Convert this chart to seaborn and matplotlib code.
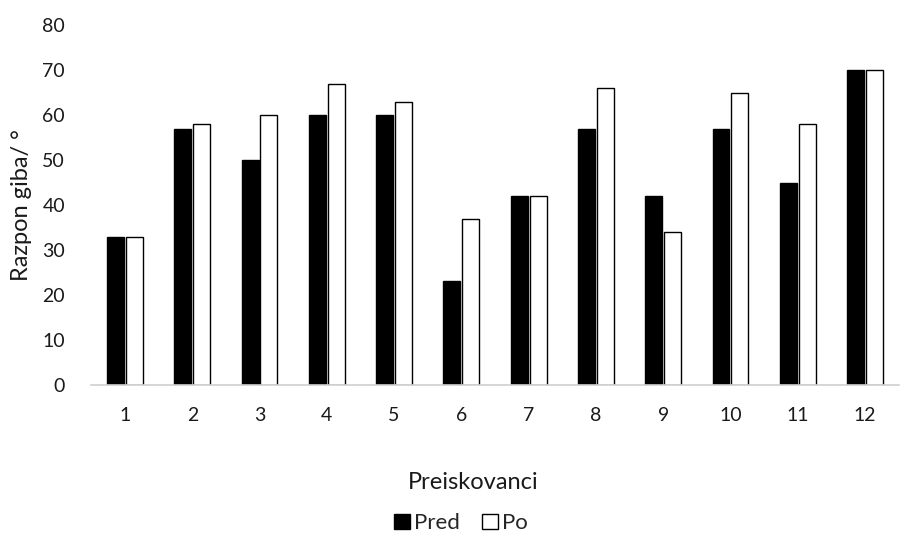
import matplotlib
matplotlib.use("Agg")
import matplotlib.pyplot as plt
import pandas as pd
import seaborn as sns
from matplotlib.patches import Patch

subjects = ["1", "2", "3", "4", "5", "6", "7", "8", "9", "10", "11", "12"]
pred = [33, 57, 50, 60, 60, 23, 42, 57, 42, 57, 45, 70]
po = [33, 58, 60, 67, 63, 37, 42, 66, 34, 65, 58, 70]
series = ["Pred", "Po"]

df = pd.DataFrame({
    "Preiskovanci": subjects * 2,
    "value": pred + po,
    "series": [series[0]] * len(subjects) + [series[1]] * len(subjects),
})

sns.set_theme(style="white")
plt.rcParams["font.family"] = ["Lato", "DejaVu Sans"]

fig = plt.figure(figsize=(9.04, 5.38), dpi=100)
ax = fig.add_axes([0.1011, 0.2844, 0.8929, 0.6691])

sns.barplot(data=df, x="Preiskovanci", y="value", hue="series",
            palette={"Pred": "black", "Po": "white"}, width=0.56, gap=0.1,
            edgecolor="black", linewidth=1.0, ax=ax, legend=False)

ax.set_ylim(0, 80)
ax.set_yticks(range(0, 81, 10))
ax.set_xlim(-0.5, len(subjects) - 0.5)
ax.tick_params(axis="y", length=0, pad=19, labelsize=14, colors="#1a1a1a")
ax.tick_params(axis="x", length=0, pad=16, labelsize=14, colors="#1a1a1a")
for side in ["left", "right", "top"]:
    ax.spines[side].set_visible(False)
ax.spines["bottom"].set_color("#d0d0d0")
ax.spines["bottom"].set_linewidth(1.2)

ax.set_ylabel("Razpon giba/ °", fontsize=17, color="#1a1a1a", va="center")
ax.yaxis.set_label_coords(-0.087, 0.5)
ax.set_xlabel("Preiskovanci", fontsize=17, color="#1a1a1a", va="center")
ax.xaxis.set_label_coords(0.473, -0.272)

handles = [Patch(facecolor="black", edgecolor="black", label="Pred"),
           Patch(facecolor="white", edgecolor="black", label="Po")]
fig.legend(handles=handles, loc="center", bbox_to_anchor=(0.51, 0.027),
           ncol=2, frameon=False, fontsize=16, handlelength=0.7,
           handleheight=0.7, handletextpad=0.2, columnspacing=1.0)

fig.savefig("out.png", dpi=100)
